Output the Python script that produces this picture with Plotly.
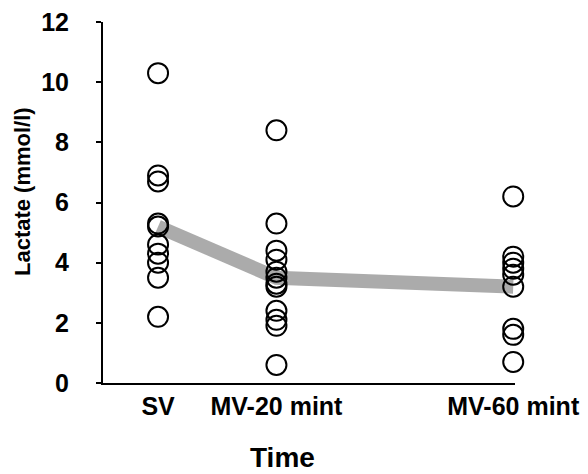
import plotly.graph_objects as go

time_points = [0, 20, 60]
tick_labels = ["SV", "MV-20 mint", "MV-60 mint"]
sv_values = [10.3, 6.9, 6.7, 5.3, 5.2, 4.6, 4.3, 4.0, 3.5, 2.2]
mv20_values = [8.4, 5.3, 4.4, 4.1, 3.7, 3.5, 3.3, 3.2, 2.4, 2.1, 1.9, 0.6]
mv60_values = [6.2, 4.2, 4.0, 3.8, 3.6, 3.2, 1.8, 1.6, 0.7]
mean_values = [5.2, 3.5, 3.2]

FONT = "Liberation Sans, Arial, sans-serif"

fig = go.Figure()
fig.add_trace(go.Scatter(
    x=time_points, y=mean_values, mode="lines",
    line=dict(color="rgba(150,150,150,0.8)", width=14),
    hoverinfo="skip", showlegend=False, cliponaxis=False))

groups = [sv_values, mv20_values, mv60_values]
for t, vals in zip(time_points, groups):
    fig.add_trace(go.Scatter(
        x=[t] * len(vals), y=vals, mode="markers",
        marker=dict(symbol="circle-open", size=20, color="black",
                    line=dict(width=2, color="black")),
        showlegend=False, cliponaxis=False))

fig.update_layout(
    width=588, height=474,
    margin=dict(l=103, r=73, t=22, b=91),
    paper_bgcolor="white", plot_bgcolor="white",
    font=dict(family=FONT, color="black", weight="bold"),
    xaxis=dict(
        range=[-9.3, 60.3], showgrid=False, zeroline=False, automargin=False,
        showline=True, linecolor="black", linewidth=2,
        tickmode="array", tickvals=time_points, ticktext=tick_labels,
        ticks="", ticklabelstandoff=0,
        tickfont=dict(size=25, family=FONT, weight="bold"),
    ),
    yaxis=dict(
        range=[0, 12], showgrid=False, zeroline=False, automargin=False,
        showline=True, linecolor="black", linewidth=2,
        tickmode="array", tickvals=[0, 2, 4, 6, 8, 10, 12],
        ticks="outside", ticklen=5, tickwidth=1.5, tickcolor="black",
        ticklabelstandoff=22,
        tickfont=dict(size=25, family=FONT, weight="bold"),
    ),
    annotations=[
        dict(text="Time", xref="paper", yref="paper", x=0.4345, y=-0.205,
             xanchor="center", yanchor="middle", showarrow=False,
             font=dict(size=28, family=FONT, weight="bold")),
        dict(text="Lactate (mmol/l)", xref="paper", yref="paper", x=-0.1966, y=0.529,
             xanchor="center", yanchor="middle", showarrow=False, textangle=-90,
             font=dict(size=22, family=FONT, weight="bold")),
    ],
)

fig.write_html("out.html",
               config={"displayModeBar": False},
               post_script="document.body.style.margin='0';document.body.style.overflow='hidden';")
